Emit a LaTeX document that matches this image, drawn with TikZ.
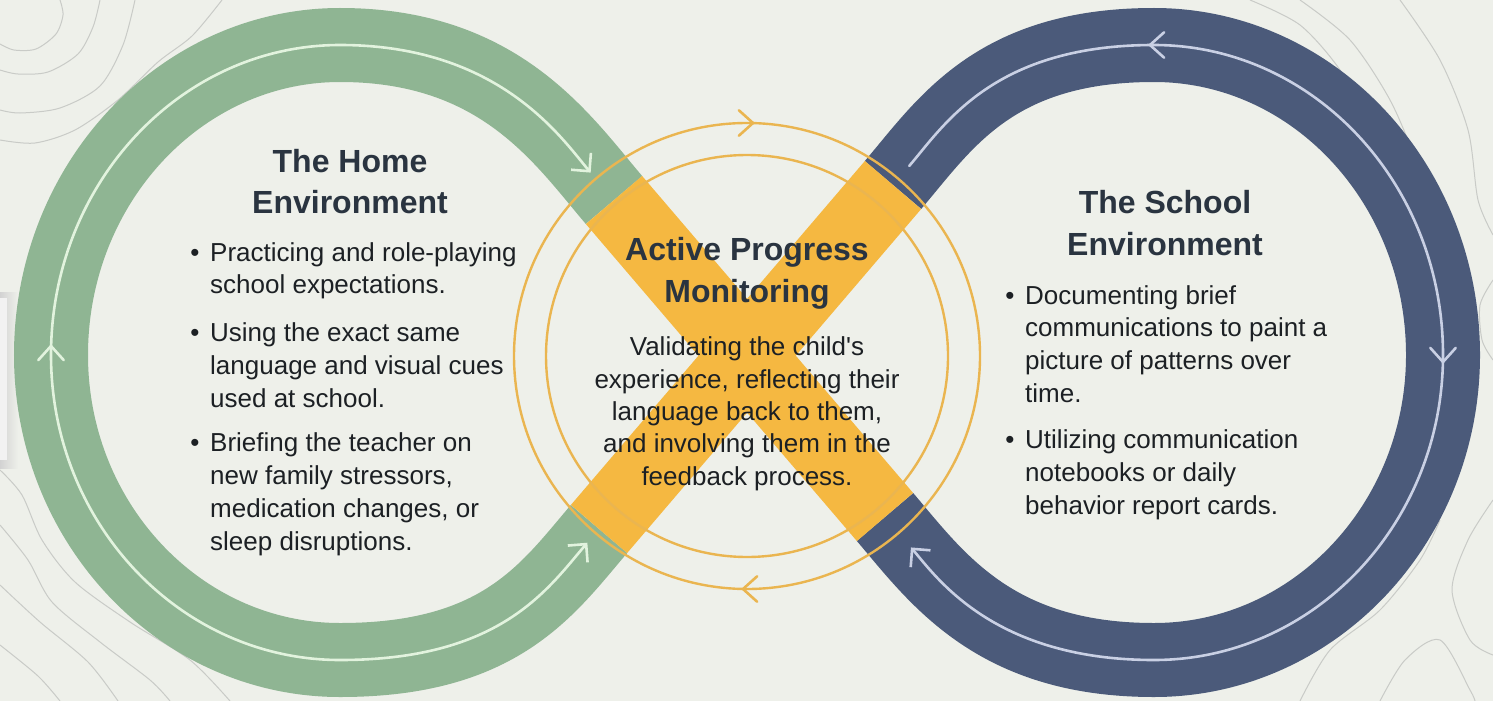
\documentclass[tikz,border=0pt]{standalone}
\usepackage{fontspec}
\setmainfont{Liberation Sans}
\usetikzlibrary{arrows.meta,calc}
\definecolor{bg}{HTML}{EEF0EA}
\definecolor{sage}{HTML}{8FB593}
\definecolor{slate}{HTML}{4B5A7A}
\definecolor{gold}{HTML}{F5B841}
\definecolor{ring}{HTML}{EAB550}
\definecolor{mint}{HTML}{E2F3DE}
\definecolor{lilac}{HTML}{C9D0E4}
\definecolor{ink}{HTML}{1C2024}
\definecolor{head}{HTML}{2A3440}
\definecolor{contour}{HTML}{C9CBC7}
\newcommand\chev[4]{\draw[guide,draw=#4] ($(#1,#2)+(#3+138:19)$) -- (#1,#2) -- ($(#1,#2)+(#3+222:19)$);}
\begin{document}
\begin{tikzpicture}[x=1pt,y=-1pt,
  band/.style={line width=74pt},
  guide/.style={line width=2.6pt, line cap=round, line join=round},
  ringline/.style={draw=ring, line width=2.4pt},
  topo/.style={draw=contour, line width=1pt},
  heading/.style={font=\fontsize{32}{40}\selectfont\bfseries, text=head, inner sep=0pt, anchor=base},
  body/.style={font=\fontsize{26}{33}\selectfont, text=ink, inner sep=0pt, anchor=base west},
  mid/.style={font=\fontsize{26}{33}\selectfont, text=ink, inner sep=0pt, anchor=base},
  dot/.style={font=\fontsize{26}{33}\selectfont, text=ink, inner sep=0pt, anchor=base}]
\useasboundingbox (0,0) rectangle (1493,701);
\fill[bg] (0,0) rectangle (1493,701);
% background contour lines
\draw[topo] plot[smooth] coordinates {(60,0) (63,15) (56,34) (36,49) (14,50) (0,44)};
\draw[topo] plot[smooth] coordinates {(100,0) (93,27) (78,54) (48,72) (18,74) (0,70)};
\draw[topo] plot[smooth] coordinates {(135,0) (123,45) (100,86) (60,108) (20,113) (0,110)};
\draw[topo] plot[smooth] coordinates {(222,0) (192,36) (158,62) (118,100) (75,130) (35,143) (0,140)};
\draw[topo] plot[smooth] coordinates {(0,470) (22,495) (42,540) (75,582) (130,622) (190,660) (230,701)};
\draw[topo] plot[smooth] coordinates {(0,525) (28,560) (52,602) (100,642) (150,680) (170,701)};
\draw[topo] plot[smooth] coordinates {(0,585) (40,622) (88,662) (118,701)};
\draw[topo] plot[smooth] coordinates {(0,645) (38,676) (60,701)};
\draw[topo] plot[smooth] coordinates {(1250,0) (1300,25) (1340,70) (1365,120) (1385,170) (1400,205)};
\draw[topo] plot[smooth] coordinates {(1300,0) (1350,40) (1390,100) (1415,160) (1428,215)};
\draw[topo] plot[smooth] coordinates {(1400,0) (1440,60) (1468,130) (1478,200) (1493,235)};
\draw[topo] plot[smooth] coordinates {(1493,280) (1480,305) (1482,340) (1493,360)};
\draw[topo] plot[smooth] coordinates {(1493,500) (1468,540) (1452,590) (1470,640) (1493,655)};
\draw[topo] plot[smooth] coordinates {(1300,701) (1330,650) (1380,610) (1420,560) (1440,520)};
\draw[topo] plot[smooth] coordinates {(1380,701) (1405,660) (1440,640) (1470,690) (1475,701)};
% page-edge object at the left
\shade[left color=gray!35, right color=bg] (0,292) rectangle (18,468);
\fill[gray!10] (0,298) rectangle (7,460);
% the two loops
\draw[band,draw=sage] (614,200) .. controls (562,139) and (500,45) .. (340,45)
  .. controls (180.5,45) and (51,183.9) .. (51,355)
  .. controls (51,523.4) and (180.5,660) .. (340,660)
  .. controls (500,660) and (547,590) .. (599,529);
\draw[band,draw=slate] (893,185) .. controls (945,124) and (994,45) .. (1154,45)
  .. controls (1313.5,45) and (1443,183.9) .. (1443,355)
  .. controls (1443,523.4) and (1313.5,660) .. (1154,660)
  .. controls (994,660) and (937,578) .. (885,517);
% guide lines
\draw[guide,draw=mint,{Straight Barb[length=13pt,width=26pt]}-{Straight Barb[length=13pt,width=26pt]},
  shorten <=36pt, shorten >=18pt]
  (614,200) .. controls (562,139) and (500,45) .. (340,45)
  .. controls (180.5,45) and (51,183.9) .. (51,355)
  .. controls (51,523.4) and (180.5,660) .. (340,660)
  .. controls (500,660) and (547,590) .. (599,529);
\draw[guide,draw=lilac,-{Straight Barb[length=13pt,width=26pt]},
  shorten <=25pt, shorten >=40pt]
  (893,185) .. controls (945,124) and (994,45) .. (1154,45)
  .. controls (1313.5,45) and (1443,183.9) .. (1443,355)
  .. controls (1443,523.4) and (1313.5,660) .. (1154,660)
  .. controls (994,660) and (937,578) .. (885,517);
\chev{51}{346}{-90}{mint}
\chev{1150}{45}{180}{lilac}
\chev{1443}{362}{90}{lilac}
% the yellow X
\draw[band,draw=gold] (614,200) -- (885,517);
\draw[band,draw=gold] (893,185) -- (599,529);
% rings
\draw[ringline] (747,356) circle[radius=233pt];
\draw[ringline] (747,356) circle[radius=201pt];
\chev{753}{123}{0}{ring}
\chev{743}{589}{180}{ring}
% home text
\node[heading] (homeA) at (350,172) {The Home};
\node[heading] (homeB) at (350,213) {Environment};
\node[dot] (hb1) at (195,261) {\textbullet};
\node[body] (h1) at (210,261) {Practicing and role-playing};
\node[body] (h2) at (210,293) {school expectations.};
\node[dot] (hb2) at (195,341) {\textbullet};
\node[body] (h3) at (210,341) {Using the exact same};
\node[body] (h4) at (210,374) {language and visual cues};
\node[body] (h5) at (210,407) {used at school.};
\node[dot] (hb3) at (195,451) {\textbullet};
\node[body] (h6) at (210,451) {Briefing the teacher on};
\node[body] (h7) at (210,484) {new family stressors,};
\node[body] (h8) at (210,517) {medication changes, or};
\node[body] (h9) at (210,550) {sleep disruptions.};
% centre text
\node[heading] (midA) at (747,260) {Active Progress};
\node[heading] (midB) at (747,302) {Monitoring};
\node[mid] (m1) at (747,355) {Validating the child\textquotesingle s};
\node[mid] (m2) at (747,388) {experience, reflecting their};
\node[mid] (m3) at (747,420) {language back to them,};
\node[mid] (m4) at (747,452) {and involving them in the};
\node[mid] (m5) at (747,485) {feedback process.};
% school text
\node[heading] (schA) at (1165,213) {The School};
\node[heading] (schB) at (1165,255) {Environment};
\node[dot] (sb1) at (1010,304) {\textbullet};
\node[body] (s1) at (1025,304) {Documenting brief};
\node[body] (s2) at (1025,336) {communications to paint a};
\node[body] (s3) at (1025,369) {picture of patterns over};
\node[body] (s4) at (1025,402) {time.};
\node[dot] (sb2) at (1010,448) {\textbullet};
\node[body] (s5) at (1025,448) {Utilizing communication};
\node[body] (s6) at (1025,481) {notebooks or daily};
\node[body] (s7) at (1025,514) {behavior report cards.};
\end{tikzpicture}
\end{document}
